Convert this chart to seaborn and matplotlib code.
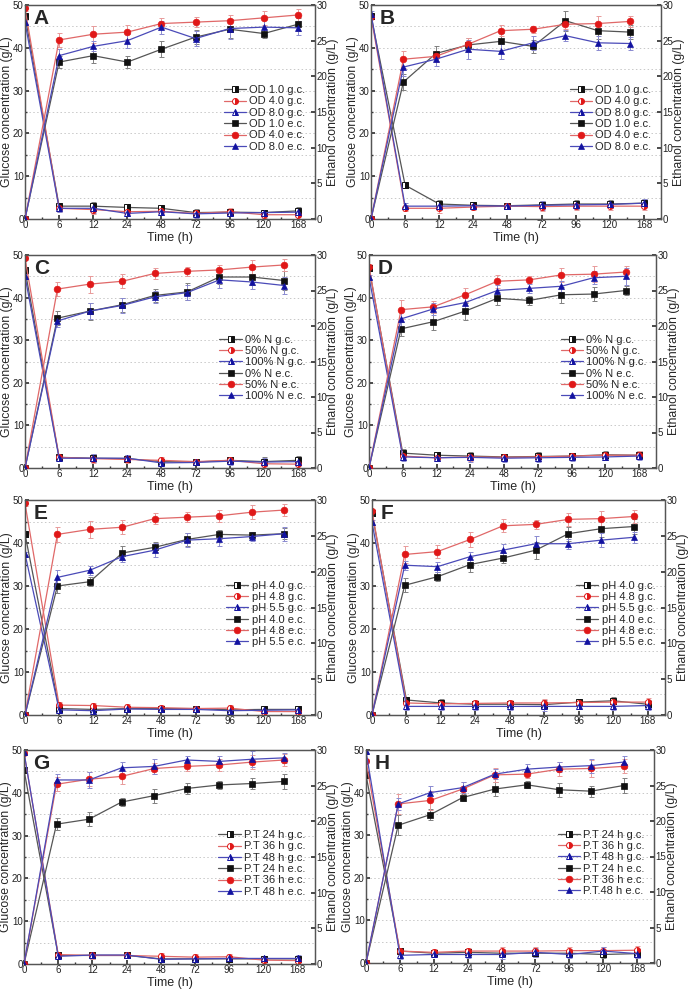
import numpy as np
import pandas as pd
import matplotlib
matplotlib.use("Agg")
import matplotlib.pyplot as plt
from matplotlib.ticker import MultipleLocator
import seaborn as sns

TICK_LABELS = ["0", "6", "12", "24", "48", "72", "96", "120", "168"]

# glucose (left axis, g/L) -- black, red, blue series
A_GLU_K = [47.5, 3.0, 3.0, 2.7, 2.5, 1.5, 1.6, 1.5, 1.9]
A_GLU_R = [49.2, 2.5, 2.2, 1.7, 1.8, 1.3, 1.7, 1.0, 1.0]
A_GLU_B = [46.0, 2.5, 2.5, 1.3, 1.7, 1.2, 1.4, 1.5, 1.6]
B_GLU_K = [47.5, 7.9, 3.5, 3.2, 3.1, 3.3, 3.5, 3.5, 3.7]
B_GLU_R = [47.3, 2.5, 2.5, 2.8, 3.0, 2.9, 3.0, 3.0, 3.0]
B_GLU_B = [48.0, 3.0, 3.0, 3.1, 3.0, 3.2, 3.3, 3.4, 3.7]
C_GLU_K = [46.5, 2.5, 2.3, 2.2, 1.5, 1.4, 1.8, 1.5, 1.8]
C_GLU_R = [49.3, 2.5, 2.2, 2.0, 1.8, 1.5, 1.8, 1.0, 0.9]
C_GLU_B = [45.0, 2.3, 2.3, 2.3, 1.2, 1.3, 1.6, 1.4, 1.5]
D_GLU_K = [47.0, 3.5, 3.0, 2.8, 2.6, 2.7, 2.8, 3.1, 3.0]
D_GLU_R = [47.3, 2.8, 2.4, 2.6, 2.5, 2.6, 2.8, 3.0, 3.0]
D_GLU_B = [44.8, 2.6, 2.4, 2.5, 2.3, 2.4, 2.5, 2.6, 2.8]
E_GLU_K = [42.1, 1.5, 1.3, 1.5, 1.5, 1.5, 1.2, 1.3, 1.3]
E_GLU_R = [49.2, 2.3, 2.2, 1.8, 1.7, 1.5, 1.6, 0.8, 0.8]
E_GLU_B = [37.5, 1.2, 1.0, 1.4, 1.3, 1.3, 1.0, 1.1, 1.2]
F_GLU_K = [47.0, 3.5, 2.8, 2.5, 2.5, 2.4, 3.0, 3.3, 2.5]
F_GLU_R = [47.4, 2.8, 2.6, 2.7, 2.8, 2.8, 2.9, 3.0, 3.0]
F_GLU_B = [44.8, 2.0, 2.0, 2.0, 2.0, 2.0, 2.0, 2.0, 2.2]
G_GLU_K = [45.3, 2.0, 2.0, 2.0, 1.2, 1.2, 1.2, 1.2, 1.2]
G_GLU_R = [49.3, 2.2, 2.0, 2.0, 1.8, 1.6, 1.7, 0.9, 0.8]
G_GLU_B = [49.5, 1.8, 2.1, 2.1, 1.1, 1.2, 1.3, 1.3, 1.3]
H_GLU_K = [44.1, 2.8, 2.3, 2.5, 2.3, 2.3, 2.3, 2.0, 2.2]
H_GLU_R = [47.4, 2.8, 2.5, 2.8, 2.8, 2.8, 2.9, 2.9, 3.0]
H_GLU_B = [49.7, 1.8, 2.0, 2.0, 2.0, 2.5, 2.0, 2.8, 2.2]

# glucose error bars, one per panel
A_GLU_ERR = [0.5, 0.8, 1.0, 0.7, 0.8, 0.9, 0.8, 0.7, 0.9]
B_GLU_ERR = [0.5, 0.7, 1.0, 0.7, 0.6, 1.0, 1.0, 0.9, 1.0]
C_GLU_ERR = [0.5, 0.7, 1.0, 0.8, 0.7, 0.7, 0.8, 1.0, 0.9]
D_GLU_ERR = [0.5, 1.0, 0.8, 1.0, 0.8, 1.0, 0.8, 0.8, 1.0]
E_GLU_ERR = [0.5, 0.8, 0.7, 0.7, 0.6, 0.7, 0.8, 0.7, 0.8]
F_GLU_ERR = [0.5, 0.8, 0.9, 0.8, 0.8, 1.0, 0.7, 0.8, 1.0]
G_GLU_ERR = [0.5, 0.7, 0.8, 0.6, 0.7, 0.7, 0.6, 0.6, 0.7]
H_GLU_ERR = [0.5, 0.8, 0.7, 0.8, 1.0, 1.0, 0.9, 0.9, 1.0]

# ethanol (right axis, g/L)
A_ETH_K = [0, 22.0, 22.9, 22.0, 23.8, 25.5, 26.6, 26.0, 27.3]
A_ETH_R = [0, 25.1, 25.9, 26.2, 27.4, 27.6, 27.8, 28.2, 28.6]
A_ETH_B = [0, 22.9, 24.2, 25.0, 26.9, 25.3, 26.7, 26.9, 26.8]
B_ETH_K = [0, 19.2, 23.2, 24.4, 24.9, 24.2, 27.8, 26.4, 26.2]
B_ETH_R = [0, 22.4, 22.8, 24.5, 26.4, 26.6, 27.3, 27.4, 27.7]
B_ETH_B = [0, 21.3, 22.4, 23.8, 23.5, 24.7, 25.7, 24.7, 24.6]
C_ETH_K = [0, 21.1, 22.1, 23.0, 24.3, 24.8, 26.9, 26.9, 26.4]
C_ETH_R = [0, 25.2, 25.9, 26.3, 27.4, 27.7, 27.9, 28.3, 28.6]
C_ETH_B = [0, 20.7, 22.1, 22.9, 24.1, 24.7, 26.5, 26.2, 25.7]
D_ETH_K = [0, 19.6, 20.6, 22.1, 23.9, 23.6, 24.4, 24.5, 25.0]
D_ETH_R = [0, 22.3, 22.7, 24.4, 26.3, 26.5, 27.2, 27.3, 27.6]
D_ETH_B = [0, 21.0, 22.4, 23.3, 25.0, 25.3, 25.6, 26.8, 27.0]
E_ETH_K = [0, 18.0, 18.6, 22.6, 23.4, 24.5, 25.2, 25.1, 25.3]
E_ETH_R = [0, 25.2, 25.9, 26.2, 27.4, 27.6, 27.8, 28.3, 28.6]
E_ETH_B = [0, 19.2, 20.2, 22.1, 23.0, 24.4, 24.6, 24.9, 25.3]
F_ETH_K = [0, 18.1, 19.3, 21.0, 21.9, 23.0, 25.3, 26.0, 26.3]
F_ETH_R = [0, 22.4, 22.8, 24.5, 26.4, 26.6, 27.3, 27.4, 27.7]
F_ETH_B = [0, 20.9, 20.7, 22.1, 23.0, 23.9, 23.9, 24.4, 24.8]
G_ETH_K = [0, 19.6, 20.3, 22.7, 23.6, 24.6, 25.1, 25.3, 25.6]
G_ETH_R = [0, 25.2, 25.9, 26.3, 27.4, 27.7, 27.9, 28.3, 28.6]
G_ETH_B = [0, 25.8, 25.8, 27.5, 27.7, 28.6, 28.4, 28.7, 28.9]
H_ETH_K = [0, 19.4, 20.9, 23.3, 24.5, 25.1, 24.4, 24.2, 25.0]
H_ETH_R = [0, 22.4, 22.9, 24.5, 26.5, 26.6, 27.3, 27.4, 27.7]
H_ETH_B = [0, 22.4, 24.0, 24.7, 26.6, 27.3, 27.6, 27.8, 28.3]

# ethanol error bars
A_ETH_ERR_K = [0, 0.9, 1.1, 0.9, 1.1, 1.0, 1.2, 0.6, 0.9]
A_ETH_ERR_R = [0, 1.0, 1.2, 1.0, 0.8, 0.7, 0.8, 1.0, 0.9]
A_ETH_ERR_B = [0, 1.0, 0.7, 1.0, 0.9, 1.1, 1.4, 1.1, 1.0]
B_ETH_ERR_K = [0, 1.1, 1.1, 1.0, 1.2, 0.9, 1.4, 1.1, 1.0]
B_ETH_ERR_R = [0, 1.2, 0.8, 0.9, 0.8, 0.5, 0.6, 1.1, 0.8]
B_ETH_ERR_B = [0, 1.3, 1.0, 1.3, 1.1, 1.0, 0.8, 1.0, 0.9]
C_ETH_ERR_K = [0, 1.0, 1.2, 1.0, 0.9, 1.2, 1.0, 1.1, 1.3]
C_ETH_ERR_R = [0, 1.0, 1.2, 1.0, 0.8, 0.6, 0.7, 1.0, 0.9]
C_ETH_ERR_B = [0, 0.9, 1.1, 1.1, 0.8, 1.1, 1.2, 1.0, 1.2]
D_ETH_ERR_K = [0, 1.0, 1.2, 1.2, 0.9, 0.6, 1.1, 1.0, 0.7]
D_ETH_ERR_R = [0, 1.3, 0.8, 1.0, 0.9, 0.5, 1.0, 1.1, 0.9]
D_ETH_ERR_B = [0, 1.1, 0.9, 0.9, 0.8, 0.6, 0.8, 0.9, 1.2]
E_ETH_ERR_K = [0, 1.0, 0.6, 1.0, 0.7, 0.9, 0.6, 0.5, 0.8]
E_ETH_ERR_R = [0, 1.0, 1.2, 1.0, 0.8, 0.7, 0.8, 1.0, 0.9]
E_ETH_ERR_B = [0, 1.1, 0.6, 0.8, 1.0, 1.0, 1.0, 0.6, 1.0]
F_ETH_ERR_K = [0, 1.0, 0.6, 1.0, 0.7, 1.2, 1.0, 1.2, 1.0]
F_ETH_ERR_R = [0, 1.2, 0.9, 1.0, 0.9, 0.6, 0.9, 1.1, 0.9]
F_ETH_ERR_B = [0, 0.6, 0.7, 0.7, 0.9, 1.1, 0.7, 1.0, 0.8]
G_ETH_ERR_K = [0, 0.8, 1.0, 0.6, 1.0, 0.8, 0.5, 0.8, 1.1]
G_ETH_ERR_R = [0, 1.0, 1.0, 1.0, 0.8, 0.7, 0.8, 1.0, 0.9]
G_ETH_ERR_B = [0, 0.8, 1.1, 0.8, 1.1, 0.6, 0.8, 1.1, 0.7]
H_ETH_ERR_K = [0, 1.4, 0.8, 0.5, 1.0, 0.5, 1.0, 0.8, 1.0]
H_ETH_ERR_R = [0, 1.4, 1.3, 1.0, 1.0, 0.6, 1.0, 1.2, 1.0]
H_ETH_ERR_B = [0, 0.8, 1.0, 0.8, 0.7, 0.7, 0.7, 1.0, 0.8]

# legend names per panel
OD_NAMES = ["OD 1.0", "OD 4.0", "OD 8.0"]
N_NAMES = ["0% N", "50% N", "100% N"]
PH_NAMES = ["pH 4.0", "pH 4.8", "pH 5.5"]
PT_NAMES = ["P.T 24 h", "P.T 36 h", "P.T 48 h"]

# ethanol sampling points sit slightly off the tick grid in most panels
ETH_STEP = {"A": 1.0, "B": 0.95, "C": 0.95, "D": 0.95,
            "E": 0.95, "F": 0.95, "G": 0.95, "H": 0.95}

MARK_COL = ["#111111", "#e01818", "#1212a0"]
LINE_COL = ["#555555", "#e06868", "#4a4ab8"]
ERR_COL = ["#808080", "#e89a9a", "#8a8ad0"]
MARKERS = ["s", "o", "^"]

# axes boxes in pixels: left, right, top, bottom
BOXES = {
    "A": (25, 315, 5, 219), "B": (371, 661, 5, 219),
    "C": (25, 315, 255, 468), "D": (369, 656, 255, 468),
    "E": (25, 315, 500, 715), "F": (372, 665, 500, 715),
    "G": (24, 315, 750, 964), "H": (366, 654, 750, 963),
}

sns.set_theme(style="ticks")
plt.rcParams["font.family"] = ["Liberation Sans", "DejaVu Sans"]

W, H = 692, 992
fig = plt.figure(figsize=(W / 100, H / 100), dpi=100)


def draw_panel(letter, glu, glu_err, eth, eth_err, names, last_name=None):
    l, r, t, b = BOXES[letter]
    ax = fig.add_axes([l / W, 1 - b / H, (r - l) / W, (b - t) / H])
    ax2 = ax.twinx()
    idx = np.arange(len(TICK_LABELS))
    eth_x = idx * ETH_STEP[letter]
    handles_g, handles_e = [], []

    for k in range(3):
        df = pd.DataFrame({"x": idx, "y": glu[k]})
        ax.errorbar(df["x"], df["y"], yerr=glu_err, fmt="none",
                    ecolor=ERR_COL[k], elinewidth=0.7, capsize=1.8,
                    capthick=0.7, zorder=2)
        sns.lineplot(data=df, x="x", y="y", ax=ax, color=LINE_COL[k],
                     lw=0.9, marker=MARKERS[k], markersize=4.3,
                     fillstyle="right", markerfacecoloralt="white",
                     markerfacecolor=MARK_COL[k], markeredgecolor=MARK_COL[k],
                     markeredgewidth=0.7, zorder=3)
        handles_g.append(ax.lines[-1])

    for k in range(3):
        df = pd.DataFrame({"x": eth_x, "y": eth[k]})
        ax2.errorbar(df["x"], df["y"], yerr=eth_err[k], fmt="none",
                     ecolor=ERR_COL[k], elinewidth=0.7, capsize=1.8,
                     capthick=0.7, zorder=2)
        sns.lineplot(data=df, x="x", y="y", ax=ax2, color=LINE_COL[k],
                     lw=0.9, marker=MARKERS[k], markersize=4.8,
                     markerfacecolor=MARK_COL[k], markeredgecolor=MARK_COL[k],
                     markeredgewidth=0.5, zorder=3)
        handles_e.append(ax2.lines[-1])

    ax.set_xlim(0, 8.5)
    ax.set_ylim(0, 50)
    ax2.set_ylim(0, 30)
    ax.set_xticks(idx)
    ax.set_xticklabels(TICK_LABELS)
    ax.yaxis.set_major_locator(MultipleLocator(10))
    ax.yaxis.set_minor_locator(MultipleLocator(5))
    ax2.yaxis.set_major_locator(MultipleLocator(5))
    ax.xaxis.set_minor_locator(MultipleLocator(0.5))

    ax.grid(which="both", axis="y", color="#c8c8c8", ls=(0, (1.5, 2.5)), lw=0.7)
    ax.set_axisbelow(True)

    for a in (ax, ax2):
        a.tick_params(which="both", direction="in", labelsize=7, pad=1,
                      colors="#333333", labelcolor="#222222")
        a.tick_params(which="major", length=3)
        a.tick_params(which="minor", length=1.5)
        for s in a.spines.values():
            s.set_color("#555555")
            s.set_linewidth(0.9)
        a.set_facecolor("none")
    ax.set_facecolor("white")

    ax.set_xlabel("Time (h)", fontsize=9, labelpad=1)
    ax.set_ylabel("Glucose concentration (g/L)", fontsize=8.8, labelpad=0)
    ax2.set_ylabel("Ethanol concentration (g/L)", fontsize=8.8, labelpad=0)

    ax.text(0.03, 0.98, letter, transform=ax.transAxes, fontsize=15,
            fontweight="bold", ha="left", va="top", zorder=10)

    labels = [n + " g.c." for n in names] + [n + " e.c." for n in names]
    if last_name is not None:
        labels[-1] = last_name
    leg = ax2.legend(handles_g + handles_e, labels, loc="center right",
                     bbox_to_anchor=(0.975, 0.47), frameon=False, fontsize=8,
                     labelspacing=0.12, handlelength=2.0, handletextpad=0.3,
                     borderpad=0.2, borderaxespad=0)
    leg.set_zorder(10)


draw_panel("A", [A_GLU_K, A_GLU_R, A_GLU_B], A_GLU_ERR,
           [A_ETH_K, A_ETH_R, A_ETH_B], [A_ETH_ERR_K, A_ETH_ERR_R, A_ETH_ERR_B], OD_NAMES)
draw_panel("B", [B_GLU_K, B_GLU_R, B_GLU_B], B_GLU_ERR,
           [B_ETH_K, B_ETH_R, B_ETH_B], [B_ETH_ERR_K, B_ETH_ERR_R, B_ETH_ERR_B], OD_NAMES)
draw_panel("C", [C_GLU_K, C_GLU_R, C_GLU_B], C_GLU_ERR,
           [C_ETH_K, C_ETH_R, C_ETH_B], [C_ETH_ERR_K, C_ETH_ERR_R, C_ETH_ERR_B], N_NAMES)
draw_panel("D", [D_GLU_K, D_GLU_R, D_GLU_B], D_GLU_ERR,
           [D_ETH_K, D_ETH_R, D_ETH_B], [D_ETH_ERR_K, D_ETH_ERR_R, D_ETH_ERR_B], N_NAMES)
draw_panel("E", [E_GLU_K, E_GLU_R, E_GLU_B], E_GLU_ERR,
           [E_ETH_K, E_ETH_R, E_ETH_B], [E_ETH_ERR_K, E_ETH_ERR_R, E_ETH_ERR_B], PH_NAMES)
draw_panel("F", [F_GLU_K, F_GLU_R, F_GLU_B], F_GLU_ERR,
           [F_ETH_K, F_ETH_R, F_ETH_B], [F_ETH_ERR_K, F_ETH_ERR_R, F_ETH_ERR_B], PH_NAMES)
draw_panel("G", [G_GLU_K, G_GLU_R, G_GLU_B], G_GLU_ERR,
           [G_ETH_K, G_ETH_R, G_ETH_B], [G_ETH_ERR_K, G_ETH_ERR_R, G_ETH_ERR_B], PT_NAMES)
draw_panel("H", [H_GLU_K, H_GLU_R, H_GLU_B], H_GLU_ERR,
           [H_ETH_K, H_ETH_R, H_ETH_B], [H_ETH_ERR_K, H_ETH_ERR_R, H_ETH_ERR_B], PT_NAMES,
           last_name="P.T.48 h e.c.")

fig.savefig("out.png", dpi=100)
